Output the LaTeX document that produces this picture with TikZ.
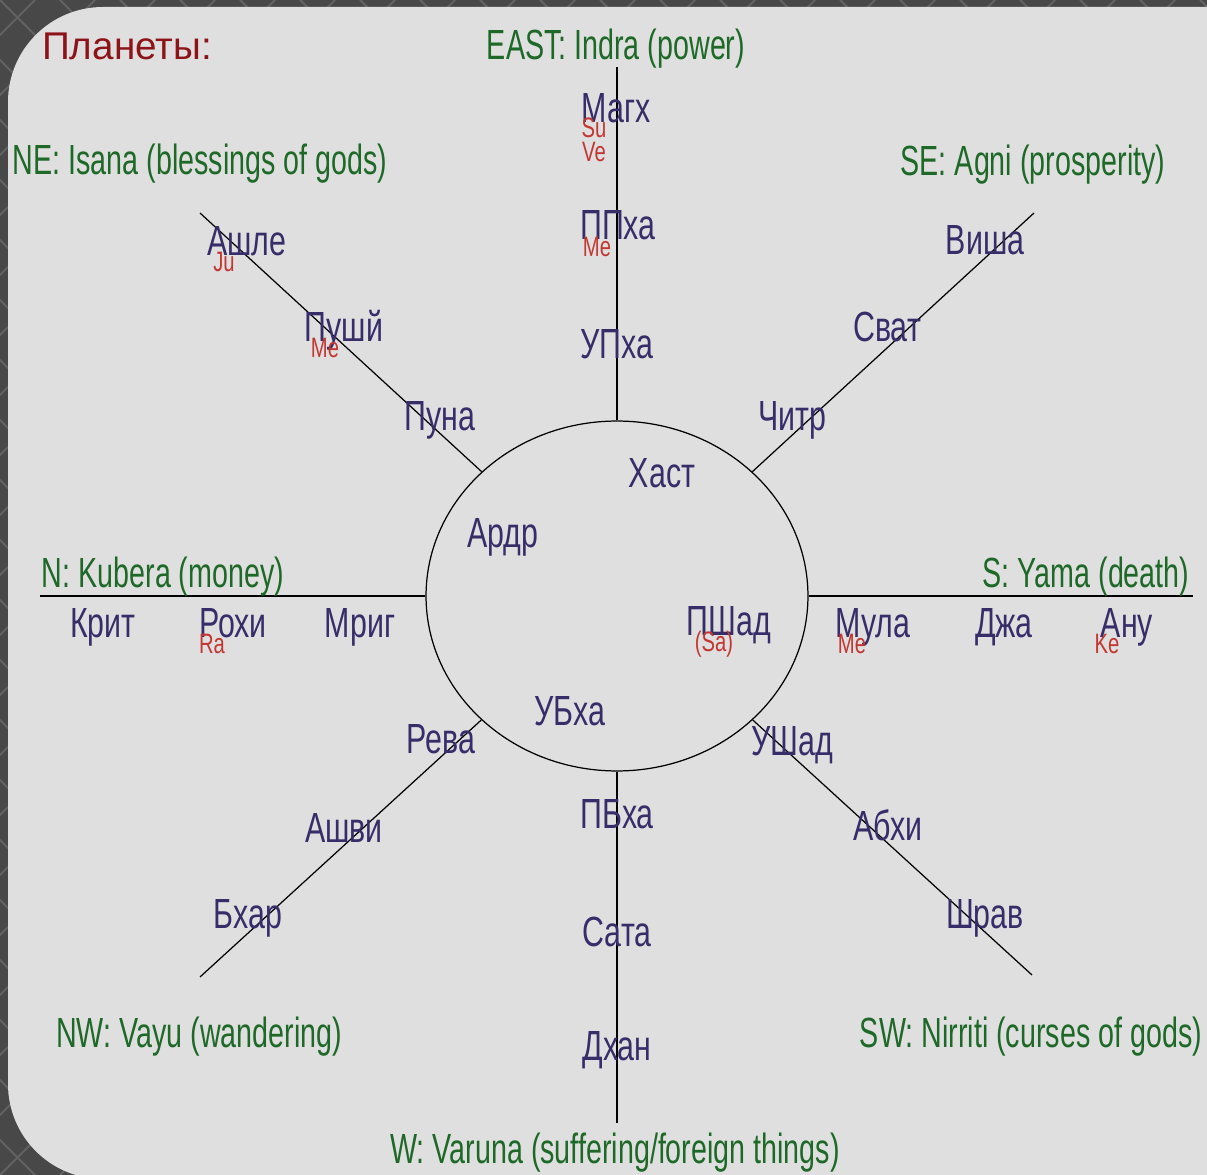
\documentclass[tikz,border=0pt]{standalone}
\usepackage{fontspec}
\setmainfont{Liberation Sans}[FakeStretch=0.72]
\newfontfamily\titlefont{Liberation Sans}
\newfontfamily\dirfont{Liberation Sans}[FakeStretch=0.68]
\usetikzlibrary{shapes.geometric}
\definecolor{mynavy}{RGB}{55,45,105}
\definecolor{mygreen}{RGB}{30,105,40}
\definecolor{myred}{RGB}{140,20,25}
\definecolor{myplanet}{RGB}{195,55,50}
\definecolor{mypanel}{RGB}{223,223,223}
\definecolor{myframe}{RGB}{72,72,72}
\definecolor{mytile}{RGB}{98,98,98}

\tikzset{
    naks/.style={color=mynavy, anchor=base, inner sep=0pt, font=\fontsize{24}{24}\selectfont},
    dirlbl/.style={color=mygreen, anchor=base, inner sep=0pt, font=\dirfont\fontsize{24}{24}\selectfont},
    plnt/.style={color=myplanet, anchor=base, inner sep=0pt, font=\fontsize{16}{16}\selectfont},
    spoke/.style={line width=0.7pt, black}
}

\begin{document}
\begin{tikzpicture}[x=0.02cm, y=-0.02cm]
    \useasboundingbox (0, 0) rectangle (1207, 1175);
    \clip (0, 0) rectangle (1207, 1175);
    % Dark frame with diamond tiles, light panel on top.
    \fill[myframe] (0, 0) rectangle (1207, 1175);
    \foreach \k in {-1200, -1140, ..., 1260} {
        \draw[mytile, line width=1.2pt] (\k, 0) -- ++(1175, 1175);
        \draw[mytile, line width=1.2pt] (\k, 1175) -- ++(1175, -1175);
    }
    \fill[mypanel, rounded corners=1.9cm] (8, 1179) -- (8, 7) -- (1320, 7) -- (1320, 1179) -- cycle;

    % Title.
    \node[color=myred, anchor=base, inner sep=0pt, font=\titlefont\fontsize{22}{22}\selectfont] (title) at (127, 60) {Планеты:};

    % Central ring and the eight spokes.
    \node[draw, spoke, ellipse, minimum width=7.64cm, minimum height=7.0cm, inner sep=0pt] (ring) at (617, 596) {};
    \coordinate (eastEnd) at (617, 67);
    \coordinate (westEnd) at (617, 1123);
    \coordinate (northEnd) at (40, 596);
    \coordinate (southEnd) at (1193, 596);
    \coordinate (neEnd) at (200, 213);
    \coordinate (seEnd) at (1034, 213);
    \coordinate (nwEnd) at (200, 977);
    \coordinate (swEnd) at (1032, 975);
    \draw[spoke] (ring) -- (eastEnd);
    \draw[spoke] (ring) -- (westEnd);
    \draw[spoke] (ring) -- (northEnd);
    \draw[spoke] (ring) -- (southEnd);
    \draw[spoke] (ring) -- (neEnd);
    \draw[spoke] (ring) -- (seEnd);
    \draw[spoke] (ring) -- (nwEnd);
    \draw[spoke] (ring) -- (swEnd);

    % Directions.
    \node[dirlbl] (east) at (616, 60) {EAST: Indra (power)};
    \node[dirlbl] (ne) at (200, 175) {NE: Isana (blessings of gods)};
    \node[dirlbl] (se) at (1033, 176) {SE: Agni (prosperity)};
    \node[dirlbl] (north) at (163, 587) {N: Kubera (money)};
    \node[dirlbl] (south) at (1086, 587) {S: Yama (death)};
    \node[dirlbl] (nw) at (199, 1047) {NW: Vayu (wandering)};
    \node[dirlbl] (sw) at (1031, 1047) {SW: Nirriti (curses of gods)};
    \node[dirlbl] (west) at (615, 1163) {W: Varuna (suffering/foreign things)};

    % Nakshatras, east spoke.
    \node[naks] (magh) at (616, 123) {Магх};
    \node[naks] (ppha) at (618, 240) {ППха};
    \node[naks] (upha) at (617, 359) {УПха};
    % Inside the ring.
    \node[naks] (hast) at (662, 488) {Хаст};
    \node[naks] (ardr) at (503, 548) {Ардр};
    \node[naks] (pshad) at (729, 635) {ПШад};
    \node[naks] (ubha) at (570, 725) {УБха};
    % North spoke.
    \node[naks] (krit) at (103, 637) {Крит};
    \node[naks] (rohi) at (233, 637) {Рохи};
    \node[naks] (mrig) at (360, 637) {Мриг};
    % South spoke.
    \node[naks] (mula) at (873, 637) {Мула};
    \node[naks] (dzha) at (1004, 637) {Джа};
    \node[naks] (anu) at (1127, 637) {Ану};
    % NE spoke.
    \node[naks] (ashle) at (247, 256) {Ашле};
    \node[naks] (push) at (344, 342) {Пушй};
    \node[naks] (puna) at (440, 431) {Пуна};
    % SE spoke.
    \node[naks] (visha) at (985, 255) {Виша};
    \node[naks] (svat) at (887, 342) {Сват};
    \node[naks] (chitr) at (792, 431) {Читр};
    % NW spoke.
    \node[naks] (reva) at (441, 753) {Рева};
    \node[naks] (ashvi) at (344, 842) {Ашви};
    \node[naks] (bhar) at (248, 928) {Бхар};
    % SW spoke.
    \node[naks] (ushad) at (792, 755) {УШад};
    \node[naks] (abhi) at (888, 840) {Абхи};
    \node[naks] (shrav) at (985, 928) {Шрав};
    % West spoke.
    \node[naks] (pbha) at (617, 828) {ПБха};
    \node[naks] (sata) at (617, 946) {Сата};
    \node[naks] (dhan) at (617, 1060) {Дхан};

    % Planets.
    \node[plnt] (su) at (594, 138) {Su};
    \node[plnt] (ve) at (594, 162) {Ve};
    \node[plnt] (meA) at (597, 257) {Me};
    \node[plnt] (ju) at (224, 272) {Ju};
    \node[plnt] (meB) at (325, 358) {Me};
    \node[plnt] (sa) at (714, 651) {(Sa)};
    \node[plnt] (ra) at (212, 653) {Ra};
    \node[plnt] (meC) at (852, 653) {Me};
    \node[plnt] (ke) at (1107, 653) {Ke};
\end{tikzpicture}
\end{document}
